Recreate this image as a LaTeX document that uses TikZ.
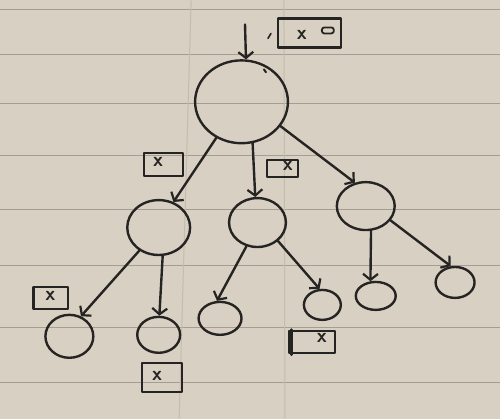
\documentclass[tikz,border=0pt]{standalone}
\usetikzlibrary{arrows.meta,shapes.geometric}
\definecolor{paper}{HTML}{D8D1C3}
\definecolor{rule}{HTML}{A49D92}
\definecolor{margin}{HTML}{C4BDAF}
\definecolor{inkc}{HTML}{262422}
\begin{document}
\begin{tikzpicture}[x=1pt,y=-1pt,
  ink/.style={draw=inkc, line width=2.4pt, line cap=round, line join=round},
  vert/.style={ellipse, ink, inner sep=0pt},
  tag/.style={rectangle, ink, line width=2.2pt, inner sep=0pt},
  tagtext/.style={text=inkc, font=\fontsize{20}{20}\selectfont\sffamily\bfseries, inner sep=0pt},
  link/.style={ink, -{Straight Barb[length=6pt,width=15pt,line width=2.2pt]}}
]
% ruled notebook page
\fill[paper] (0,0) rectangle (500,419);
\foreach \y in {9,54,103,155,209,266,328,383}
  \draw[rule, line width=1pt] (0,\y) -- (500,\y);
\draw[margin, line width=1pt] (191,0) -- (179,419);
\draw[margin, line width=1pt] (284,0) -- (285,419);

% vertices
\node[vert, minimum width=93pt, minimum height=83pt] (root) at (241.5,101.5) {};
\node[vert, minimum width=63pt, minimum height=55pt] (A) at (158.5,227.5) {};
\node[vert, minimum width=57pt, minimum height=49pt] (B) at (257.5,222.5) {};
\node[vert, minimum width=58pt, minimum height=48pt] (C) at (366,206) {};
\node[vert, minimum width=48pt, minimum height=43pt] (L1) at (69,336.5) {};
\node[vert, minimum width=43pt, minimum height=36pt] (L2) at (158.5,335) {};
\node[vert, minimum width=43pt, minimum height=33pt] (L3) at (220,318.5) {};
\node[vert, minimum width=37pt, minimum height=30pt] (L4) at (322.5,305) {};
\node[vert, minimum width=40pt, minimum height=28pt] (L5) at (376,296) {};
\node[vert, minimum width=39pt, minimum height=31pt] (L6) at (455.5,282.5) {};

% incoming arrow
\coordinate (in) at (245,24);
\draw[link] (in) -- (root.84);

% edges
\draw[link] (root.-125) -- (A.60);
\draw[link] (root.-75) -- (B.95);
\draw[link] (root.-32) -- (C.115);
\draw[link] (A.-130) -- (L1.60);
\draw[link] (A.-82) -- (L2.88);
\draw[link] (B.-115) -- (L3.100);
\draw[link] (B.-42) -- (L4.100);
\draw[link] (C.-78) -- (L5.110);
\draw[link] (C.-30) -- (L6.105);

% tags
\node[tag, minimum width=63pt, minimum height=29pt] (t0) at (309.5,32.5) {};
\node[tagtext] (t0x) at (302,34) {x};
\node[ink, line width=1.8pt, rounded corners=2.5pt, minimum width=12pt, minimum height=6pt, inner sep=0pt] (t0o) at (328,30) {};
\draw[ink, line width=1.6pt] (268,38) -- (271,33);
\draw[ink, line width=2pt] (264,69) -- (266,72);

\node[tag, minimum width=39pt, minimum height=23pt] (ta) at (163.5,164.5) {};
\node[tagtext] (tax) at (158,162) {x};
\node[tag, minimum width=31pt, minimum height=17pt] (tb) at (282.5,168.5) {};
\node[tagtext] (tbx) at (288,166) {x};
\node[tag, minimum width=35pt, minimum height=22pt] (tc) at (50.5,298) {};
\node[tagtext] (tcx) at (50,296) {x};
\node[tag, minimum width=40pt, minimum height=29pt] (td) at (162,377.5) {};
\node[tagtext] (tdx) at (157,376) {x};
\node[tag, minimum width=46pt, minimum height=22pt] (te) at (312,342) {};
\node[tagtext] (tex) at (322,338) {x};
\draw[ink, line width=3pt] (te.north west) ++(4,0) -- ++(0,25);
\end{tikzpicture}
\end{document}
